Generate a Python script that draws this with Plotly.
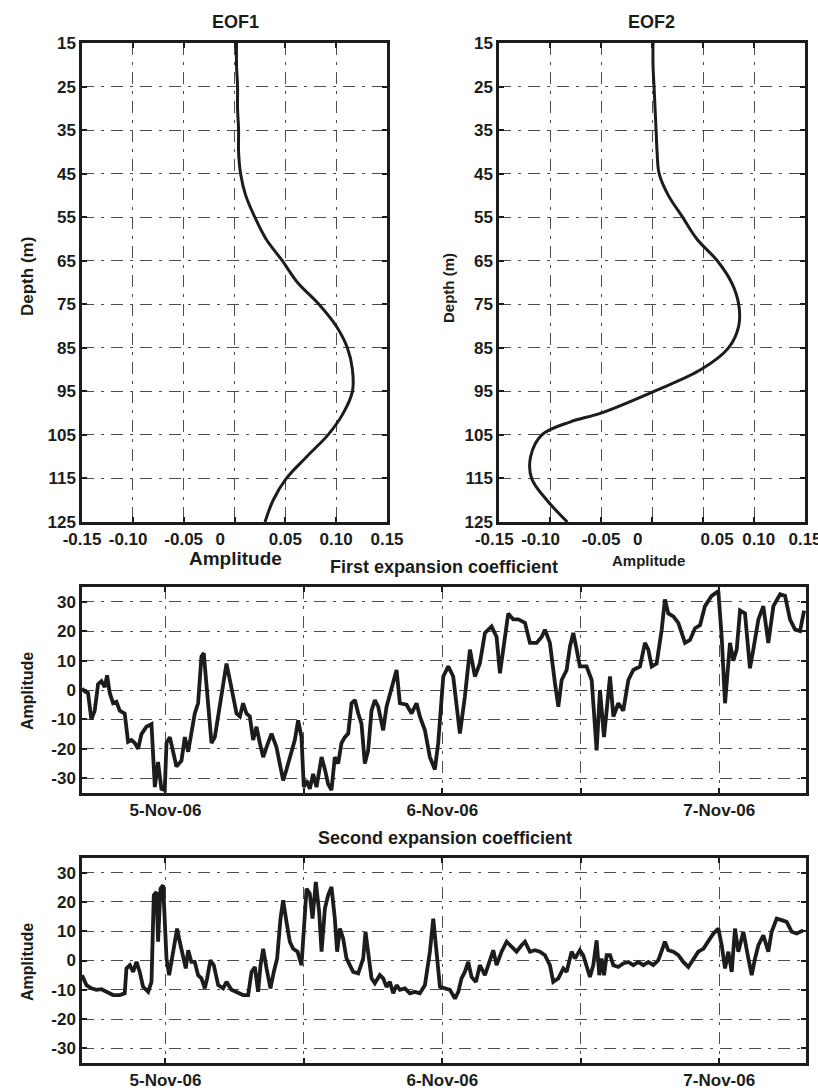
import pandas as pd
import plotly.graph_objects as go

# ---------------- data ----------------
depth_m = [15, 20, 25, 30, 35, 40, 45, 50, 55, 60, 65, 70, 75, 80, 85, 90, 95, 100, 105, 110, 115, 120, 125]
eof1_amp = [0.002, 0.002, 0.003, 0.003, 0.004, 0.004, 0.006, 0.011, 0.020, 0.031, 0.047, 0.062, 0.083, 0.100,
            0.111, 0.116, 0.116, 0.107, 0.092, 0.071, 0.051, 0.038, 0.030]

depth2_m = [15, 20, 25, 30, 35, 40, 45, 50, 55, 60, 65, 70, 75, 80, 85, 90, 95, 100, 102, 105, 110, 115, 120, 125]
eof2_amp = [0.001, 0.001, 0.002, 0.003, 0.004, 0.005, 0.007, 0.016, 0.030, 0.044, 0.064, 0.078, 0.085, 0.085,
            0.075, 0.048, 0.002, -0.050, -0.080, -0.108, -0.119, -0.118, -0.103, -0.083]

# hours relative to 5-Nov-2006 00:00
pc1_hours = [-7.23, -6.99, -6.71, -6.42, -6.13, -5.84, -5.55, -5.26, -5.06, -4.83, -4.54, -4.25, -3.96, -3.53,
             -3.24, -2.95, -2.66, -2.37, -2.08, -1.65, -1.21, -0.92, -0.64, -0.35, -0.06, 0.09, 0.38, 0.66,
             0.95, 1.39, 1.68, 1.97, 2.25, 2.54, 2.83, 3.12, 3.32, 3.55, 3.99, 4.28, 4.71, 5.00, 5.29, 5.58,
             5.87, 6.16, 6.45, 6.73, 7.02, 7.31, 7.60, 7.89, 8.18, 8.47, 8.76, 9.19, 9.62, 9.91, 10.20, 10.49,
             10.78, 11.21, 11.50, 11.79, 11.99, 12.23, 12.51, 12.80, 13.09, 13.53, 13.82, 14.10, 14.39, 14.68,
             14.97, 15.26, 15.55, 15.84, 16.13, 16.42, 16.71, 16.99, 17.28, 17.57, 17.86, 18.15, 18.44, 18.87,
             19.16, 19.60, 20.03, 20.32, 20.90, 21.33, 21.76, 22.05, 22.49, 22.92, 23.35, 23.64, 24.08, 24.51,
             24.94, 25.52, 25.95, 26.39, 26.82, 27.25, 27.69, 28.27, 28.70, 28.99, 29.42, 29.71, 30.14, 30.58,
             31.16, 31.59, 32.17, 32.60, 32.89, 33.32, 33.76, 34.05, 34.34, 34.77, 35.06, 35.35, 35.64, 35.92,
             36.50, 36.94, 37.37, 37.66, 38.01, 38.53, 38.82, 39.25, 39.68, 40.12, 40.55, 41.13, 41.56, 41.85,
             42.14, 42.57, 43.01, 43.29, 43.58, 44.02, 44.45, 45.03, 45.46, 45.90, 46.33, 46.76, 47.34, 47.92,
             48.21, 48.50, 48.93, 49.22, 49.51, 49.80, 50.23, 50.66, 50.95, 51.39, 51.82, 52.25, 52.69, 53.27,
             53.70, 54.13, 54.57, 55.00, 55.35]
pc1_vals = [0.5, -0.5, -1.0, -10.0, -7.0, 2.0, 3.0, 1.0, 5.0, -1.0, -4.5, -4.0, -7.0, -8.0,
            -17.6, -17.0, -18.0, -20.0, -15.0, -12.5, -11.6, -33.0, -24.5, -33.6, -34.0, -18.0, -16.0, -20.5,
            -26.0, -24.0, -16.0, -21.0, -14.8, -8.0, -4.5, 11.4, 12.5, 2.3, -18.0, -16.0, -5.7, 1.0, 9.0, 3.4,
            -2.3, -8.0, -9.0, -4.5, -8.0, -9.0, -17.0, -12.5, -18.0, -22.8, -19.4, -14.8, -19.4, -26.0, -30.7, -27.0,
            -22.8, -17.0, -10.3, -16.0, -33.0, -30.7, -33.6, -28.5, -33.0, -22.8, -27.0, -32.0, -34.0, -22.8,
            -25.0, -18.0, -16.0, -14.8, -4.5, -3.4, -8.0, -11.4, -25.0, -20.5, -7.0, -3.4, -5.7, -13.7,
            -5.7, 1.0, 6.8, -4.5, -5.0, -8.0, -4.5, -9.0, -13.7, -22.8, -27.0, -18.0, 4.6, 8.0,
            4.6, -14.8, -2.3, 13.7, 4.6, 9.0, 19.4, 21.6, 18.0, 5.7, 18.0, 26.0, 24.0, 24.0,
            22.8, 16.0, 16.0, 18.0, 20.5, 16.0, 2.3, -5.7, 3.4, 6.8, 14.8, 19.4, 13.7, 8.0,
            8.0, 3.4, -20.5, 0.0, -16.0, 4.6, -9.0, -4.5, -7.0, 3.4, 6.8, 8.0, 16.0, 13.7,
            8.0, 9.0, 20.5, 30.8, 26.0, 25.0, 22.8, 16.0, 17.0, 21.0, 22.0, 28.5, 32.0, 33.6,
            18.0, -4.5, 16.0, 10.0, 13.7, 27.0, 26.0, 7.4, 13.7, 24.0, 28.5, 16.0, 28.5, 32.5,
            32.0, 24.0, 20.5, 20.0, 27.0]

pc2_hours = [-7.23, -6.85, -6.42, -5.98, -5.55, -5.12, -4.54, -3.96, -3.53, -3.38, -3.09, -2.80, -2.51, -2.23,
             -1.94, -1.50, -1.21, -1.01, -0.78, -0.64, -0.43, -0.20, -0.06, 0.09, 0.32, 0.52, 0.81, 1.01,
             1.24, 1.53, 1.76, 1.97, 2.25, 2.54, 2.83, 3.12, 3.41, 3.61, 3.90, 4.19, 4.57, 5.00, 5.29, 5.72,
             6.16, 6.73, 7.17, 7.46, 7.75, 8.03, 8.24, 8.47, 8.76, 9.10, 9.39, 9.68, 9.97, 10.20, 10.49, 10.78,
             11.07, 11.45, 11.79, 12.08, 12.23, 12.51, 12.75, 13.03, 13.32, 13.53, 13.82, 14.10, 14.39, 14.68,
             14.88, 15.12, 15.40, 15.69, 15.98, 16.27, 16.71, 17.14, 17.34, 17.57, 17.86, 18.15, 18.58, 18.87,
             19.16, 19.45, 19.74, 20.03, 20.32, 20.75, 21.18, 21.62, 22.05, 22.49, 22.92, 23.21, 23.50, 23.79,
             24.22, 24.65, 25.09, 25.38, 25.66, 25.95, 26.24, 26.53, 26.91, 27.25, 27.69, 28.12, 28.41, 28.70,
             29.13, 29.57, 30.00, 30.43, 30.87, 31.16, 31.59, 32.02, 32.46, 32.89, 33.32, 33.61, 34.05, 34.48,
             34.77, 35.20, 35.49, 35.92, 36.21, 36.50, 36.79, 37.08, 37.37, 37.60, 37.80, 38.01, 38.24, 38.53,
             38.82, 39.25, 39.68, 40.12, 40.55, 40.98, 41.42, 41.85, 42.28, 42.72, 43.01, 43.29, 43.58, 44.02,
             44.45, 44.88, 45.32, 45.75, 46.18, 46.62, 47.05, 47.49, 47.92, 48.21, 48.50, 48.79, 49.08, 49.36,
             49.65, 50.09, 50.52, 50.81, 51.10, 51.39, 51.82, 52.25, 52.54, 52.98, 53.41, 53.84, 54.28, 54.71,
             55.29]
pc2_vals = [-5.0, -8.4, -9.5, -10.0, -9.8, -10.7, -11.8, -11.8, -11.2, -2.7, -1.6, -3.9, -0.5, -3.9,
            -9.0, -10.7, -7.3, 22.3, 23.4, 6.4, 24.5, 25.7, 14.3, 0.7, -5.0, -0.5, 6.4, 10.9,
            6.4, 1.8, -2.7, 3.5, -0.5, -0.5, -5.0, -6.1, -9.5, -6.1, 0.1, -1.6, -8.4, -9.5, -7.3, -10.0,
            -10.7, -11.8, -11.8, -3.9, -2.2, -10.7, -1.6, 4.0, -2.7, -9.5, -3.9, 0.7, 14.3, 20.6, 13.2, 6.4,
            4.0, 3.0, -1.6, 18.9, 24.5, 22.8, 14.3, 26.8, 16.6, 3.0, 17.7, 22.3, 25.1, 14.3,
            3.0, 10.9, 7.5, 0.7, -1.6, -3.9, -4.4, 0.7, 9.8, 3.0, -6.1, -7.8, -5.0, -6.1,
            -9.0, -7.3, -11.2, -8.4, -10.0, -9.5, -11.2, -10.7, -11.2, -8.4, 3.0, 14.3, 3.0, -9.0,
            -9.5, -10.0, -13.0, -10.7, -6.1, -3.9, -0.5, -5.6, -7.3, -1.6, -5.0, 0.7, 3.5, -1.6,
            3.0, 6.4, 4.7, 3.0, 5.2, 6.4, 3.0, 3.5, 3.0, 1.8, -1.6, -7.3, -6.1, -2.7,
            -3.9, 3.0, 0.7, 3.5, 1.8, -1.6, -5.6, -1.6, 6.9, -5.0, 0.7, -5.0, 1.8, 1.8,
            -1.6, -2.2, -1.0, -0.5, -1.6, -0.5, -1.6, -0.5, -1.6, 0.1, 3.0, 6.4, 3.5, 3.0,
            1.8, -0.5, -2.2, 0.7, 3.0, 4.0, 6.4, 9.2, 10.9, 5.2, -2.7, 3.0, -3.9, 10.9,
            3.0, 9.8, 0.7, -5.0, 0.7, 5.2, 8.6, 3.0, 9.8, 14.3, 13.8, 13.2, 9.8, 9.2,
            10.3]

eof_xticks = [-0.15, -0.10, -0.05, 0.0, 0.05, 0.10, 0.15]
eof_xticklabels = ["-0.15", "-0.10", "-0.05", "0", "0.05", "0.10", "0.15"]
depth_ticks = [15, 25, 35, 45, 55, 65, 75, 85, 95, 105, 115, 125]
pc_yticks = [-30, -20, -10, 0, 10, 20, 30]
time_ticks = ["2006-11-05 00:00", "2006-11-05 12:00", "2006-11-06 00:00", "2006-11-06 12:00", "2006-11-07 00:00"]
time_ticklabels = ["5-Nov-06", "", "6-Nov-06", "", "7-Nov-06"]
time_range = ["2006-11-04 16:46", "2006-11-07 07:31"]

# ---------------- layout helpers ----------------
W, H = 818, 1090
FONT = "Liberation Sans, Arial, Helvetica, sans-serif"
INK = "#1b1d1b"
GRID = "#4a4f4a"
NBSP = "\u00a0"


def xdom(x0, x1):
    return [x0 / W, x1 / W]


def ydom(y_top, y_bot):
    return [1 - y_bot / H, 1 - y_top / H]


def nudge(labels, shifts):
    """Offset tick labels sideways by padding with non-breaking spaces
    (negative = left, positive = right, in units of two spaces)."""
    out = []
    for text, s in zip(labels, shifts):
        pad = NBSP * (2 * abs(s))
        out.append(text + pad if s < 0 else pad + text)
    return out


base = pd.Timestamp("2006-11-05 00:00")
pc1_time = base + pd.to_timedelta(pc1_hours, unit="h")
pc2_time = base + pd.to_timedelta(pc2_hours, unit="h")

fig = go.Figure()
fig.add_trace(go.Scatter(x=eof1_amp, y=depth_m, mode="lines", line=dict(shape="spline", color=INK, width=3),
                         xaxis="x", yaxis="y", showlegend=False))
fig.add_trace(go.Scatter(x=eof2_amp, y=depth2_m, mode="lines", line=dict(shape="spline", color=INK, width=3),
                         xaxis="x2", yaxis="y2", showlegend=False))
fig.add_trace(go.Scatter(x=pc1_time, y=pc1_vals, mode="lines", line=dict(color=INK, width=3.8),
                         xaxis="x3", yaxis="y3", showlegend=False))
fig.add_trace(go.Scatter(x=pc2_time, y=pc2_vals, mode="lines", line=dict(color=INK, width=3.8),
                         xaxis="x4", yaxis="y4", showlegend=False))

axis_common = dict(
    automargin=False,
    showline=True, linecolor=INK, linewidth=2.5, mirror="ticks",
    ticks="inside", ticklen=5, tickwidth=2, tickcolor=INK,
    showgrid=True, gridcolor=GRID, gridwidth=1, griddash="12px,7px,3px,7px",
    zeroline=False, tickfont=dict(family=FONT, size=17, color=INK, weight="bold"),
    ticklabeloverflow="allow", tickangle=0,
)

eof_y = dict(axis_common, range=[125, 15], tickvals=depth_ticks, ticktext=[str(d) for d in depth_ticks])
pc_x = dict(axis_common, type="date", range=time_range, tickvals=time_ticks, ticktext=time_ticklabels)
pc_y = dict(axis_common, range=[-35, 35], tickvals=pc_yticks, ticktext=[str(v) for v in pc_yticks])

eof1_x = dict(axis_common, range=[-0.15, 0.15], tickvals=eof_xticks,
              ticktext=nudge(eof_xticklabels, [0, -1, 0, -3, 0, 0, 0]))
eof2_x = dict(axis_common, range=[-0.15, 0.15], tickvals=eof_xticks,
              ticktext=nudge(eof_xticklabels, [-1, -2, 0, -3, 3, 1, 0]))

fig.update_layout(
    template="none",
    width=W, height=H, margin=dict(l=0, r=0, t=0, b=0, autoexpand=False),
    paper_bgcolor="white", plot_bgcolor="white",
    font=dict(family=FONT, color=INK, weight="bold"),
    xaxis=dict(eof1_x, domain=xdom(82, 387), anchor="y"),
    yaxis=dict(eof_y, domain=ydom(43, 522), anchor="x"),
    xaxis2=dict(eof2_x, domain=xdom(499, 805), anchor="y2"),
    yaxis2=dict(eof_y, domain=ydom(43, 522), anchor="x2"),
    xaxis3=dict(pc_x, domain=xdom(82, 806), anchor="y3"),
    yaxis3=dict(pc_y, domain=ydom(587, 793), anchor="x3"),
    xaxis4=dict(pc_x, domain=xdom(82, 806), anchor="y4"),
    yaxis4=dict(pc_y, domain=ydom(858, 1063), anchor="x4"),
)


def label(text, x, y, size, angle=0):
    fig.add_annotation(text=text, x=x / W, y=1 - y / H, xref="paper", yref="paper",
                       showarrow=False, textangle=angle, xanchor="center", yanchor="middle",
                       font=dict(family=FONT, size=size, color=INK, weight="bold"))


label("EOF1", 235, 22, 18)
label("EOF2", 651, 22, 18)
label("Depth (m)", 27, 277, 17, -90)
label("Depth (m)", 448, 288, 15, -90)
label("Amplitude", 235, 558, 19)
label("Amplitude", 648, 560, 15)
label("First expansion coefficient", 444, 567, 18)
label("Amplitude", 27, 691, 16, -90)
label("Second expansion coefficient", 445, 838, 18)
label("Amplitude", 27, 962, 16, -90)

fig.write_html("out.html")
